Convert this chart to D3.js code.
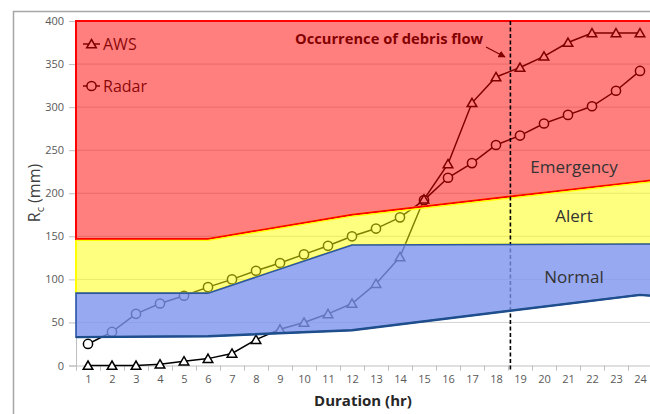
<!DOCTYPE html>
<html>
<head>
<meta charset="utf-8">
<script src="https://cdn.jsdelivr.net/npm/d3@7"></script>
<style>
  html, body { margin: 0; padding: 0; background: #fff; }
  svg { display: block; }
</style>
</head>
<body>
<svg id="chart" width="650" height="414"></svg>
<script>
// ---------------- data ----------------
const hours = [1,2,3,4,5,6,7,8,9,10,11,12,13,14,15,16,17,18,19,20,21,22,23,24];
const aws   = [0,0,0,1.5,5,8,14,30,42,50,60,72,95,126,193,234,305,335,346,359,375,386,386,386];
const radar = [25,39,60,72,81,91,100,110,119,129,139,150,159,172,192,218,235,256,267,281,291,301,319,342];

// warning thresholds (breakpoints along the duration axis)
const thrHours     = [0.5, 6, 12, 24, 24.5];
const emergencyThr = [147, 147, 175, 213.5, 215];
const alertThr     = [84, 84, 140, 141, 141];
const normalLow    = [33, 34, 41, 82, 81];

const yTicks = [0,50,100,150,200,250,300,350,400];
const debrisHour = 18.6;
const zoneLabels = ["Emergency", "Alert", "Normal"];
const zoneLabelVals = [231, 174, 103];

// ---------------- layout ----------------
const svg = d3.select("#chart");
const font = "'Open Sans', 'Liberation Sans', sans-serif";
const pLeft = 76, pRight = 652, pTop = 21, pBottom = 365.5;

const x = d3.scaleLinear().domain([0.5, 24.5]).range([pLeft, pRight]);
const y = d3.scaleLinear().domain([0, 400]).range([pBottom, pTop]);

// frame
svg.append("rect").attr("x", 13.5).attr("y", 11.5).attr("width", 700).attr("height", 500)
  .attr("fill", "#fff").attr("stroke", "#a6a6a6").attr("stroke-width", 1.5);

// gridlines
svg.append("g").selectAll("line").data(yTicks.filter(d => d > 0)).join("line")
  .attr("x1", pLeft).attr("x2", pRight)
  .attr("y1", d => y(d)).attr("y2", d => y(d))
  .attr("stroke", "#d4d4d4").attr("stroke-width", 1);

// axes
const yAxis = svg.append("g").attr("transform", `translate(${pLeft},0)`)
  .call(d3.axisLeft(y).tickValues(yTicks).tickSize(7).tickPadding(5));
yAxis.select(".domain").attr("stroke", "#bfbfbf");
yAxis.selectAll(".tick line").attr("stroke", "#bfbfbf");
yAxis.selectAll("text").attr("font-family", font).attr("font-size", 11).attr("fill", "#595959");

const xTickMarks = d3.range(0.5, 25, 1);
const xAxisTicks = svg.append("g").attr("transform", `translate(0,${pBottom})`)
  .call(d3.axisBottom(x).tickValues(xTickMarks).tickSize(5).tickFormat(""));
xAxisTicks.select(".domain").attr("stroke", "#bfbfbf");
xAxisTicks.selectAll(".tick line").attr("stroke", "#bfbfbf");

const xAxisLabels = svg.append("g").attr("transform", `translate(0,${pBottom})`)
  .call(d3.axisBottom(x).tickValues(hours).tickSize(0).tickPadding(10).tickFormat(d3.format("d")));
xAxisLabels.select(".domain").remove();
xAxisLabels.selectAll("text").attr("font-family", font).attr("font-size", 11).attr("fill", "#595959");

// axis titles
svg.append("text").attr("x", 363).attr("y", 406).attr("text-anchor", "middle")
  .attr("font-family", font).attr("font-weight", "bold").attr("font-size", 15).attr("fill", "#262626")
  .text("Duration (hr)");
const yt = svg.append("text").attr("transform", "translate(40,193) rotate(-90)")
  .attr("text-anchor", "middle").attr("font-family", font).attr("font-size", 16).attr("fill", "#404040");
yt.append("tspan").text("R");
yt.append("tspan").attr("font-size", 11).attr("dy", 4).text("c");
yt.append("tspan").attr("dy", -4).text(" (mm)");

// ---------------- series (under the translucent zones) ----------------
const line = d3.line().x((d, i) => x(hours[i])).y(d => y(d));
const tri = "M0,-4.5L4.8,3.8L-4.8,3.8Z";

svg.append("path").datum(radar).attr("d", line)
  .attr("fill", "none").attr("stroke", "#000").attr("stroke-width", 1.5);
svg.append("path").datum(aws).attr("d", line)
  .attr("fill", "none").attr("stroke", "#000").attr("stroke-width", 1.5);

svg.append("g").selectAll("circle").data(radar).join("circle")
  .attr("cx", (d, i) => x(hours[i])).attr("cy", d => y(d)).attr("r", 4.6)
  .attr("fill", "#fff").attr("stroke", "#000").attr("stroke-width", 1.5);
svg.append("g").selectAll("path").data(aws).join("path")
  .attr("transform", (d, i) => `translate(${x(hours[i])},${y(d)})`).attr("d", tri)
  .attr("fill", "#fff").attr("stroke", "#000").attr("stroke-width", 1.5);

// legend
const legend = svg.append("g");
[["AWS", 44], ["Radar", 86]].forEach(([name, ly], k) => {
  legend.append("line").attr("x1", 83).attr("x2", 100).attr("y1", ly).attr("y2", ly)
    .attr("stroke", "#000").attr("stroke-width", 1.5);
  if (k === 0) legend.append("path").attr("transform", `translate(91.5,${ly})`).attr("d", tri)
    .attr("fill", "#fff").attr("stroke", "#000").attr("stroke-width", 1.5);
  else legend.append("circle").attr("cx", 91.5).attr("cy", ly).attr("r", 4.6)
    .attr("fill", "#fff").attr("stroke", "#000").attr("stroke-width", 1.5);
  legend.append("text").attr("x", 103).attr("y", ly + 6).attr("font-family", font)
    .attr("font-size", 16).attr("fill", "#111").text(name);
});

// annotation
svg.append("defs").append("marker").attr("id", "arr").attr("viewBox", "0 0 10 10")
  .attr("refX", 9).attr("refY", 5).attr("markerWidth", 6).attr("markerHeight", 6)
  .attr("orient", "auto").append("path").attr("d", "M0,0L10,5L0,10Z").attr("fill", "#000");
svg.append("text").attr("x", 295).attr("y", 44).attr("font-family", font).attr("font-weight", "bold")
  .attr("font-size", 14.7).attr("fill", "#000").text("Occurrence of debris flow");
svg.append("line").attr("x1", 486).attr("y1", 47).attr("x2", 505).attr("y2", 57)
  .attr("stroke", "#000").attr("stroke-width", 1.2).attr("marker-end", "url(#arr)");

// ---------------- warning zones ----------------
const zoneTop = thrHours.map(() => 400);
const area = (hi, lo) => d3.area()
  .x((d, i) => x(thrHours[i])).y0((d, i) => y(lo[i])).y1((d, i) => y(hi[i]))(thrHours);

svg.append("path").attr("d", area(zoneTop, emergencyThr))
  .attr("fill", "#ff0000").attr("fill-opacity", 0.5);
svg.append("path").attr("d", area(emergencyThr, alertThr))
  .attr("fill", "#ffff00").attr("fill-opacity", 0.5);

const bline = (vals) => d3.line().x((d, i) => x(thrHours[i])).y((d, i) => y(vals[i]))(thrHours);
// yellow outline
svg.append("path").attr("d", area(emergencyThr, alertThr)).attr("fill", "none")
  .attr("stroke", "#ffff00").attr("stroke-width", 2);
// red outline (top, left, emergency boundary)
svg.append("path").attr("d", area(zoneTop, emergencyThr)).attr("fill", "none")
  .attr("stroke", "#ff0000").attr("stroke-width", 2);
svg.append("path").attr("d", bline(emergencyThr)).attr("transform", "translate(0,1.5)")
  .attr("fill", "none").attr("stroke", "#ffff00").attr("stroke-width", 1.2);

// debris flow time
svg.append("line").attr("x1", x(debrisHour)).attr("x2", x(debrisHour))
  .attr("y1", y(400)).attr("y2", y(0) + 5)
  .attr("stroke", "#000").attr("stroke-width", 1.6).attr("stroke-dasharray", "4,2.5");

// normal zone
svg.append("path").attr("d", area(alertThr, normalLow))
  .attr("fill", "rgb(125,148,236)").attr("fill-opacity", 0.8)
  .attr("stroke", "#2a56a8").attr("stroke-width", 1.6);
svg.append("path").attr("d", bline(normalLow))
  .attr("fill", "none").attr("stroke", "#1f4e8c").attr("stroke-width", 2.4);

// zone labels
svg.append("g").selectAll("text").data(zoneLabels).join("text")
  .attr("x", 574).attr("y", (d, i) => y(zoneLabelVals[i]) + 6)
  .attr("text-anchor", "middle").attr("font-family", font).attr("font-size", 17)
  .attr("fill", "#333").text(d => d);
</script>
</body>
</html>
